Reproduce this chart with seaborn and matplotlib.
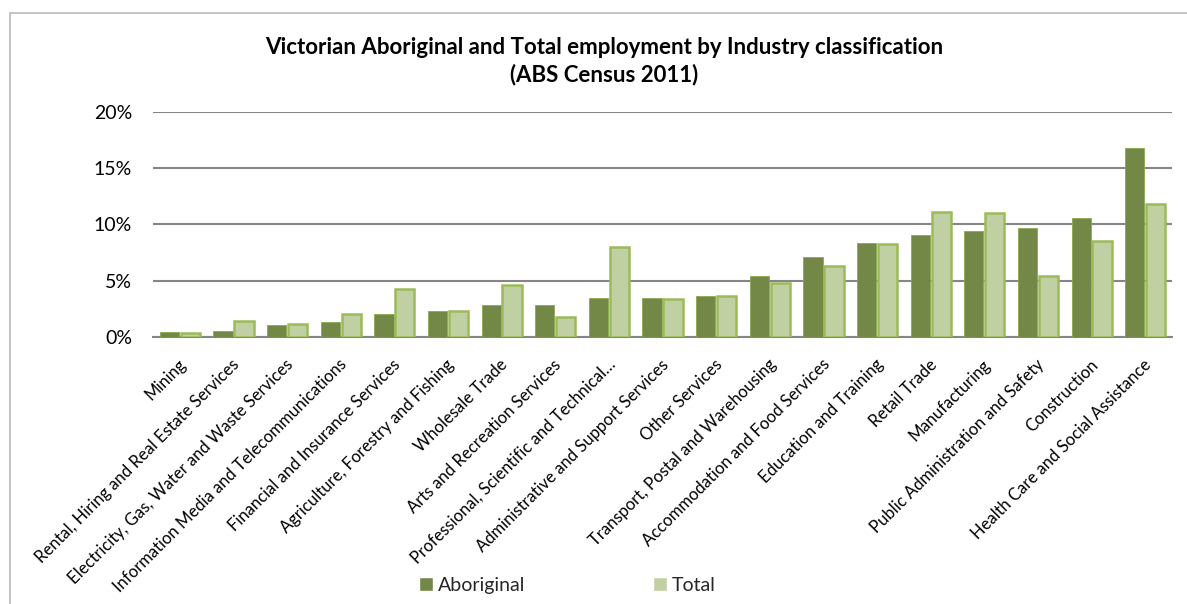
import matplotlib
matplotlib.use("Agg")
import matplotlib.pyplot as plt
import matplotlib.transforms as mtransforms
import seaborn as sns
import pandas as pd
from matplotlib.ticker import PercentFormatter
from matplotlib.patches import Rectangle

industries = [
    "Mining",
    "Rental, Hiring and Real Estate Services",
    "Electricity, Gas, Water and Waste Services",
    "Information Media and Telecommunications",
    "Financial and Insurance Services",
    "Agriculture, Forestry and Fishing",
    "Wholesale Trade",
    "Arts and Recreation Services",
    "Professional, Scientific and Technical\u2026",
    "Administrative and Support Services",
    "Other Services",
    "Transport, Postal and Warehousing",
    "Accommodation and Food Services",
    "Education and Training",
    "Retail Trade",
    "Manufacturing",
    "Public Administration and Safety",
    "Construction",
    "Health Care and Social Assistance",
]
aboriginal = [0.47, 0.53, 1.06, 1.30, 2.04, 2.34, 2.84, 2.84, 3.43, 3.49,
              3.64, 5.38, 7.13, 8.31, 9.08, 9.37, 9.70, 10.58, 16.77]
total = [0.35, 1.42, 1.12, 2.04, 4.23, 2.34, 4.61, 1.74, 7.99, 3.37,
         3.67, 4.79, 6.27, 8.22, 11.06, 11.00, 5.44, 8.55, 11.85]
series_names = ["Aboriginal", "Total"]
y_ticks = [0, 5, 10, 15, 20]

df = pd.DataFrame({
    "industry": industries * 2,
    "series": [series_names[0]] * len(industries) + [series_names[1]] * len(industries),
    "share": aboriginal + total,
})

sns.set_theme(style="white")
plt.rcParams["font.family"] = ["Lato", "DejaVu Sans"]

dark_green = "#77933C"
light_green = "#C4D79B"
light_edge = "#9BBB59"
grid_grey = "#868686"

fig = plt.figure(figsize=(11.87, 6.04), dpi=100)
ax = fig.add_axes([0.1289, 0.442, 0.8585, 0.373])

sns.barplot(data=df, x="industry", y="share", hue="series",
            palette=[dark_green, light_green], width=0.78, gap=0.08,
            order=industries, hue_order=series_names, ax=ax, zorder=3,
            legend=True)

# outline styling for each series
for container, edge, lw in zip(ax.containers, ["#8AA84E", light_edge], [0.6, 1.8]):
    for bar in container:
        bar.set_edgecolor(edge)
        bar.set_linewidth(lw)

ax.set_ylim(0, 20)
ax.set_yticks(y_ticks)
ax.yaxis.set_major_formatter(PercentFormatter(decimals=0))
ax.set_xlim(-0.5, len(industries) - 0.5)
ax.grid(axis="y", color=grid_grey, linewidth=1.5, zorder=0)
ax.set_axisbelow(True)
for side in ["left", "right", "top"]:
    ax.spines[side].set_visible(False)
ax.spines["bottom"].set_color(grid_grey)
ax.spines["bottom"].set_linewidth(1.5)
ax.set_xlabel("")
ax.set_ylabel("")

ax.tick_params(axis="y", labelsize=14, colors="black", length=0, pad=15)
ax.tick_params(axis="x", length=0, pad=6)
ax.set_xticks(range(len(industries)))
ax.set_xticklabels(industries, rotation=45, ha="right",
                   rotation_mode="anchor", fontsize=12, color="black")
shift = mtransforms.ScaledTranslation(-2 / 100, -11 / 100, fig.dpi_scale_trans)
for lbl in ax.get_xticklabels():
    lbl.set_transform(lbl.get_transform() + shift)

ax.legend_.remove()
handles, labels = ax.get_legend_handles_labels()
fig.legend(handles, labels, loc="center", bbox_to_anchor=(0.478, 0.031),
           ncol=2, frameon=False, fontsize=14, columnspacing=6.6,
           handlelength=0.7, handleheight=0.7, handletextpad=0.25)

fig.text(0.509, 0.922, "Victorian Aboriginal and Total employment by Industry classification",
         ha="center", va="center", fontsize=16, fontweight="bold", color="black")
fig.text(0.509, 0.876, "(ABS Census 2011)", ha="center", va="center",
         fontsize=16, fontweight="bold", color="black")

# chart area border
fig.patches.append(Rectangle((10 / 1187, -0.05), 1.2, 1 - 13 / 604 + 0.05,
                             transform=fig.transFigure, fill=False,
                             edgecolor="#BFBFBF", linewidth=1.3))

fig.savefig("out.png", dpi=100)
